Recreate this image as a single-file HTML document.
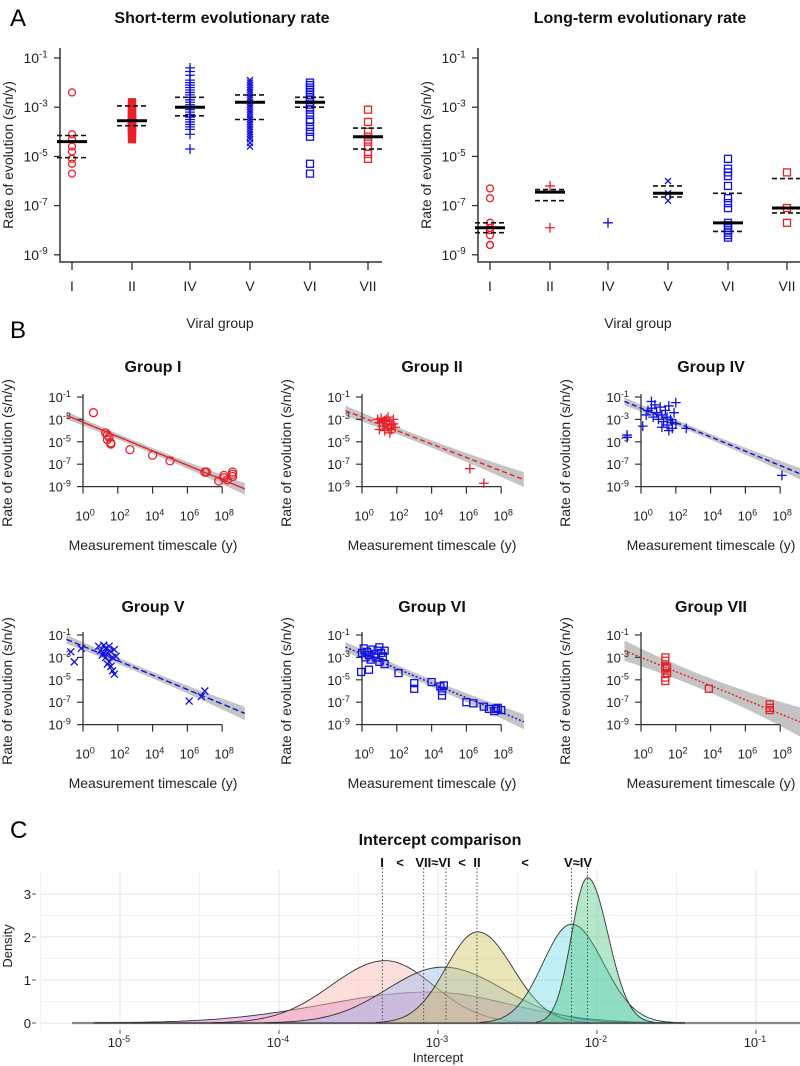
<!DOCTYPE html>
<html><head><meta charset="utf-8"><style>
html,body{margin:0;padding:0;background:#fff;}
svg{display:block;font-family:"Liberation Sans",Arial,sans-serif;}
</style></head><body>
<svg id="fig" width="800" height="1066" viewBox="0 0 800 1066" xmlns="http://www.w3.org/2000/svg">
<text x="10" y="26" font-size="24">A</text>
<text x="10" y="338" font-size="24">B</text>
<text x="10" y="838" font-size="24">C</text>
</svg>
<script>
// ===== Panel A data =====
const groupsA = ["I","II","IV","V","VI","VII"];
const shortVals = [
 [-2.4,-4.1,-4.3,-4.6,-4.8,-5.1,-5.3,-5.7],
 [-2.8,-2.95,-3.0,-3.1,-3.2,-3.3,-3.4,-3.45,-3.5,-3.55,-3.6,-3.65,-3.7,-3.75,-3.8,-3.85,-3.9,-4.0,-4.1,-4.3],
 [-1.4,-1.55,-1.7,-1.9,-2.0,-2.1,-2.2,-2.3,-2.4,-2.5,-2.6,-2.7,-2.8,-2.9,-3.0,-3.1,-3.2,-3.3,-3.4,-3.5,-3.6,-3.7,-3.8,-3.9,-4.1,-4.7],
 [-1.9,-2.0,-2.1,-2.2,-2.3,-2.4,-2.5,-2.6,-2.7,-2.8,-2.9,-3.0,-3.1,-3.2,-3.3,-3.4,-3.5,-3.6,-3.7,-3.8,-3.9,-4.0,-4.1,-4.2,-4.3,-4.45,-4.6],
 [-2.0,-2.1,-2.2,-2.3,-2.4,-2.5,-2.6,-2.7,-2.8,-2.9,-3.0,-3.1,-3.3,-3.5,-3.6,-3.8,-4.0,-4.2,-5.3,-5.7],
 [-3.1,-3.6,-4.0,-4.2,-4.4,-4.6,-4.9,-5.1]
];
const shortMed = [-4.4,-3.55,-3.0,-2.8,-2.8,-4.2];
const shortQ1 = [-5.05,-3.75,-3.35,-3.5,-3.0,-4.7];
const shortQ3 = [-4.15,-2.95,-2.6,-2.5,-2.6,-3.85];
const longVals = [
 [-6.3,-6.7,-7.7,-7.9,-8.0,-8.2,-8.6,-8.6],
 [-6.2,-7.9],
 [-7.7],
 [-6.0,-6.5,-6.8],
 [-5.1,-5.5,-5.65,-5.8,-6.2,-6.7,-6.9,-7.1,-7.7,-7.8,-7.9,-8.0,-8.1,-8.2,-8.3],
 [-5.65,-7.1,-7.7]
];
const longMed = [-7.9,-6.45,null,-6.5,-7.7,-7.1];
const longQ1 = [-8.1,-6.8,null,-6.65,-8.05,-7.3];
const longQ3 = [-7.7,-6.35,null,-6.2,-6.5,-5.9];
const markerShort = ["o","sf","+","x","s","s"];
const markerLong = ["o","+","+","x","s","s"];
const colorA = ["#e8202a","#e8202a","#1010e0","#1010e0","#1010e0","#e8202a"];
const yTickExp = [-1,-3,-5,-7,-9];

// ===== Panel B data =====
const groupsB = ["Group I","Group II","Group IV","Group V","Group VI","Group VII"];
const ptsB = [
 [[0.6,-2.4],[1.3,-4.2],[1.4,-4.4],[1.5,-4.6],[1.4,-4.8],[1.6,-5.1],[1.6,-5.2],[2.7,-5.7],[4,-6.2],[5,-6.7],[7,-7.7],[7.1,-7.7],[7.8,-8.5],[8.1,-8.0],[8.1,-8.2],[8.3,-8.4],[8.6,-7.9],[8.6,-8.1],[8.6,-7.7]],
 [[0.9,-3.0],[1.0,-3.3],[1.1,-2.9],[1.2,-3.6],[1.3,-3.1],[1.4,-3.4],[1.5,-2.8],[1.5,-3.8],[1.6,-3.2],[1.7,-3.5],[1.8,-3.0],[1.9,-3.7],[1.0,-3.9],[1.3,-4.0],[1.6,-4.2],[1.2,-3.2],[1.8,-3.4],[1.4,-3.0],[1.7,-3.9],[6.2,-7.4],[7.0,-8.7]],
 [[-0.8,-4.4],[-0.8,-4.6],[0.1,-3.6],[0.3,-2.6],[0.4,-2.2],[0.6,-1.4],[0.6,-2.0],[0.7,-2.8],[0.8,-1.7],[0.9,-2.4],[1.0,-3.0],[1.1,-1.9],[1.2,-2.6],[1.3,-3.2],[1.4,-2.2],[1.5,-3.5],[1.5,-2.8],[1.6,-1.8],[1.7,-3.0],[1.8,-3.8],[1.9,-2.4],[2.0,-1.5],[1.8,-3.3],[1.2,-3.7],[1.6,-4.0],[2.0,-3.4],[2.6,-3.8],[8.1,-8.0]],
 [[-0.7,-2.5],[-0.5,-3.4],[-0.1,-2.2],[0.9,-2.0],[1.0,-2.4],[1.1,-2.8],[1.2,-1.9],[1.3,-2.2],[1.3,-3.0],[1.4,-2.6],[1.5,-3.4],[1.5,-2.0],[1.6,-3.8],[1.6,-2.5],[1.7,-3.0],[1.7,-4.2],[1.8,-2.3],[1.8,-4.5],[1.9,-2.9],[1.4,-3.6],[1.2,-2.6],[6.1,-6.9],[6.8,-6.5],[7.0,-6.0]],
 [[-0.05,-4.3],[0.0,-2.6],[0.1,-2.2],[0.2,-3.0],[0.3,-2.5],[0.4,-4.1],[0.4,-2.8],[0.5,-3.2],[0.6,-2.3],[0.7,-2.7],[0.8,-3.0],[0.9,-2.4],[1.0,-2.1],[1.0,-3.4],[1.1,-2.6],[1.2,-2.9],[1.3,-3.6],[1.3,-2.4],[2.1,-4.4],[3,-5.3],[3,-5.8],[4,-5.2],[4.5,-5.6],[4.6,-6.0],[4.6,-6.4],[4.7,-5.5],[6,-7.0],[6.4,-7.1],[7,-7.4],[7.3,-7.6],[7.7,-7.6],[7.8,-7.5],[8.0,-7.7],[7.6,-7.8]],
 [[1.4,-3.0],[1.4,-3.3],[1.4,-3.8],[1.4,-4.0],[1.5,-4.4],[1.4,-4.8],[1.4,-5.1],[1.5,-3.9],[3.9,-5.8],[7.4,-7.2],[7.4,-7.5],[7.4,-7.7]]
];
const fitIntercept = [-3.25,-2.8,-2.0,-2.0,-2.7,-3.0];
const fitSlope = [-0.64,-0.6,-0.64,-0.645,-0.65,-0.63];
const bandHalf = [0.35,0.45,0.35,0.4,0.45,0.9];
const markerB = ["o","+","+","x","s","s"];
const colorB = ["#e8202a","#e8202a","#1010e0","#1010e0","#1010e0","#e8202a"];
const dashB = ["none","5,3","5,3","6,3","2,2","2,2"];
const xTickExpB = [0,2,4,6,8];

// ===== Panel C data =====
const groupsC = ["VII","I","VI","II","V","IV"];
const peakLog = [-3.05,-3.33,-2.97,-2.75,-2.16,-2.06];
const peakDens = [0.72,1.45,1.3,2.12,2.3,3.38];
const sdLeft = [0.66,0.34,0.35,0.2,0.18,0.1];
const sdRight = [0.5,0.3,0.38,0.22,0.2,0.13];
const fillC = ["rgba(215,90,205,0.38)","rgba(248,185,175,0.45)","rgba(150,185,240,0.42)","rgba(205,195,90,0.42)","rgba(90,215,225,0.38)","rgba(70,195,125,0.40)"];
const medLog = [-3.35,-3.09,-2.95,-2.755,-2.16,-2.06];
const medLab = ["I","VII","VI","II","V","IV"];
const xTickExpC = [-5,-4,-3,-2,-1];
const yTickC = [0,1,2,3];

const NS = "http://www.w3.org/2000/svg";
const svg = document.getElementById("fig");
function mk(tag, attrs, parent){
  const e = document.createElementNS(NS, tag);
  for (const k in attrs) e.setAttribute(k, attrs[k]);
  (parent||svg).appendChild(e);
  return e;
}
function powLabel(x,y,exp,anchor,size,name){
  const es = String(exp);
  const w = size*1.11 + size*0.7*0.56*es.length;
  const sx = anchor==="end" ? x - w : (anchor==="middle" ? x - w/2 : x);
  const t = mk("text",{x:sx,y:y,"font-size":size,fill:"#222"});
  
  
  const a = mk("tspan",{},t); a.textContent="10";
  const b = mk("tspan",{dy:-size*0.4,"font-size":size*0.7},t); b.textContent=es;
  return t;
}
function marker(type,x,y,c,sz,name){
  let e;
  if(type==="o"){ e = mk("circle",{cx:x,cy:y,r:sz*0.5,fill:"none",stroke:c,"stroke-width":1.3}); }
  else if(type==="s"||type==="sf"){ e = mk("rect",{x:x-sz/2,y:y-sz/2,width:sz,height:sz,fill:type==="sf"?c:"none",stroke:c,"stroke-width":1.3}); }
  else if(type==="+"){ e = mk("path",{d:`M${x-sz*0.7},${y}H${x+sz*0.7}M${x},${y-sz*0.7}V${y+sz*0.7}`,stroke:c,"stroke-width":1.3,fill:"none"}); }
  else { e = mk("path",{d:`M${x-sz*0.5},${y-sz*0.5}L${x+sz*0.5},${y+sz*0.5}M${x-sz*0.5},${y+sz*0.5}L${x+sz*0.5},${y-sz*0.5}`,stroke:c,"stroke-width":1.3,fill:"none"}); }
  
  
  return e;
}

// ===== Panel A =====
function panelA(axX, gx, title, titleX, vals, med, q1, q3, mks, key){
  const yA = v => 58 + (-1 - v) * 24.6;
  const t = mk("text",{x:titleX,y:23,"font-size":16,"font-weight":"bold","text-anchor":"middle",fill:"#111"});
  
  
  t.textContent = title;
  const ax = mk("path",{d:`M${axX},48V262H${axX+322}`,stroke:"#333","stroke-width":1.5,fill:"none"});
  
  
  yTickExp.forEach(e=>{
    const tk = mk("line",{x1:axX-6,x2:axX,y1:yA(e),y2:yA(e),stroke:"#333","stroke-width":1.3});
    
    
    powLabel(axX-10,yA(e)+5,e,"end",14,key+'-y-tick-label');
  });
  const yt = mk("text",{x:0,y:0,"font-size":14,"text-anchor":"middle",fill:"#222",transform:`translate(${axX-47},155) rotate(-90)`});
  
  
  yt.textContent = "Rate of evolution (s/n/y)";
  const xt = mk("text",{x:axX+160,y:328,"font-size":14,"text-anchor":"middle",fill:"#222"});
  
  
  xt.textContent = "Viral group";
  groupsA.forEach((g,i)=>{
    const x = gx[i];
    const tk = mk("line",{x1:x,x2:x,y1:262,y2:270,stroke:"#333","stroke-width":1.3});
    
    
    const lb = mk("text",{x:x,y:291,"font-size":14,"text-anchor":"middle",fill:"#222"});
    
    
    lb.textContent = g;
    vals[i].forEach(v=> marker(mks[i], x, yA(v), colorA[i], mks[i]==="o"?7:(mks[i]==="x"?6:7), key+'-point-'+g));
    if(med[i]!==null){
      [q1[i],q3[i]].forEach(q=>{
        const l = mk("line",{x1:x-15,x2:x+15,y1:yA(q),y2:yA(q),stroke:"#111","stroke-width":1.6,"stroke-dasharray":"5,3"});
        
        
      });
      const m = mk("line",{x1:x-15,x2:x+15,y1:yA(med[i]),y2:yA(med[i]),stroke:"#000","stroke-width":3});
      
      
    }
  });
}
panelA(60,[72,132,190,250,310,368],"Short-term evolutionary rate",222,shortVals,shortMed,shortQ1,shortQ3,markerShort,"short-term");
panelA(478,[490,550,608,668,728,787],"Long-term evolutionary rate",640,longVals,longMed,longQ1,longQ3,markerLong,"long-term");

// ===== Panel B =====
groupsB.forEach((g,i)=>{
  const c = i%3, r = Math.floor(i/3);
  const ax = 83 + c*279, top = 397 + r*238;
  const key = 'panel-'+g.toLowerCase().replace(' ','-');
  const X = lx => ax + lx*17.4;
  const Y = ly => top + (-1 - ly)*11.2;
  const t = mk("text",{x:ax+70,y:(r===0?372:612),"font-size":16,"font-weight":"bold","text-anchor":"middle",fill:"#111"});
  
  
  t.textContent = g;
  let up=[],dn=[];
  for(let k=0;k<=20;k++){
    const lx = -0.95 + k*(10.25/20);
    const d = lx - 3;
    const w = bandHalf[i]*(0.7 + 0.02*d*d);
    const yv = fitIntercept[i] + fitSlope[i]*lx;
    up.push(X(lx)+","+Y(yv+w)); dn.unshift(X(lx)+","+Y(yv-w));
  }
  const band = mk("polygon",{points:up.concat(dn).join(" "),fill:"#c4c4c4"});
  
  
  const a = mk("path",{d:`M${ax},${Y(-1)-3}V${Y(-9)}H${X(8)}`,stroke:"#333","stroke-width":1.3,fill:"none"});
  
  
  yTickExp.forEach(e=>{
    const tk = mk("line",{x1:ax-6,x2:ax,y1:Y(e),y2:Y(e),stroke:"#333","stroke-width":1.2});
    
    
    powLabel(ax-10,Y(e)+5,e,"end",13,key+'-y-tick-label');
  });
  xTickExpB.forEach(e=>{
    const tk = mk("line",{x1:X(e),x2:X(e),y1:Y(-9),y2:Y(-9)+7,stroke:"#333","stroke-width":1.2});
    
    
    powLabel(X(e)+2,Y(-9)+34,e,"middle",13,key+'-x-tick-label');
  });
  const yt = mk("text",{x:0,y:0,"font-size":14,"text-anchor":"middle",fill:"#222",transform:`translate(${ax-71},${top+56}) rotate(-90)`});
  
  
  yt.textContent = "Rate of evolution (s/n/y)";
  const xt = mk("text",{x:ax+70,y:top+153,"font-size":14,"text-anchor":"middle",fill:"#222"});
  
  
  xt.textContent = "Measurement timescale (y)";
  const fl = mk("line",{x1:X(-0.95),y1:Y(fitIntercept[i]+fitSlope[i]*-0.95),x2:X(9.3),y2:Y(fitIntercept[i]+fitSlope[i]*9.3),stroke:colorB[i],"stroke-width":1.4,"stroke-dasharray":dashB[i]});
  
  
  ptsB[i].forEach(p=> marker(markerB[i], X(p[0]), Y(p[1]), colorB[i], markerB[i]==="o"?8:7, key+'-point'));
});

// ===== Panel C =====
const CX = l => 279 + (l + 4)*159;
const CY = d => 1023 - d*43;
const ct = mk("text",{x:440,y:845,"font-size":16,"font-weight":"bold","text-anchor":"middle",fill:"#111"});


ct.textContent = "Intercept comparison";
for(let k=-5.5;k<=-0.5;k+=1){
  const g = mk("line",{x1:CX(k),x2:CX(k),y1:870,y2:1030,stroke:"#f3f3f3","stroke-width":1});
  
  
}
[0.5,1.5,2.5].forEach(v=>{
  const g = mk("line",{x1:41,x2:800,y1:CY(v),y2:CY(v),stroke:"#f3f3f3","stroke-width":1});
  
  
});
xTickExpC.forEach(e=>{
  const g = mk("line",{x1:CX(e),x2:CX(e),y1:870,y2:1030,stroke:"#e6e6e6","stroke-width":1});
  
  
  const tk = mk("line",{x1:CX(e),x2:CX(e),y1:1030,y2:1034,stroke:"#555","stroke-width":1});
  
  
  powLabel(CX(e),1047,e,"middle",13,'x-tick-label');
});
yTickC.forEach(v=>{
  const g = mk("line",{x1:41,x2:800,y1:CY(v),y2:CY(v),stroke:"#e6e6e6","stroke-width":1});
  
  
  const lb = mk("text",{x:31,y:CY(v)+5,"font-size":13,"text-anchor":"end",fill:"#222"});
  
  
  lb.textContent = String(v);
  const tk = mk("line",{x1:32,x2:36,y1:CY(v),y2:CY(v),stroke:"#555","stroke-width":1});
  
  
});
const base = mk("line",{x1:72,x2:800,y1:CY(0),y2:CY(0),stroke:"#888","stroke-width":2.2});


groupsC.forEach((g,i)=>{
  const pts = [];
  const lo = peakLog[i]-3.2*sdLeft[i], hi = peakLog[i]+3.2*sdRight[i];
  for(let k=0;k<=80;k++){
    const l = lo + (hi-lo)*k/80;
    const s = l<peakLog[i]?sdLeft[i]:sdRight[i];
    const d = peakDens[i]*Math.exp(-0.5*Math.pow((l-peakLog[i])/s,2));
    pts.push(CX(l).toFixed(1)+","+CY(d).toFixed(1));
  }
  const p = mk("path",{d:`M${CX(lo)},${CY(0)}L${pts.join("L")}L${CX(hi)},${CY(0)}Z`,fill:fillC[i],stroke:"#333","stroke-width":0.9});
  
  
});
medLog.forEach((m,i)=>{
  const l = mk("line",{x1:CX(m),x2:CX(m),y1:868,y2:CY(0),stroke:"#444","stroke-width":0.9,"stroke-dasharray":"1.5,2"});
  
  
});
const ord = [["I",382],["<",400],["VII≈VI",433],["<",462],["II",477],["<",525],["V≈IV",578]];
ord.forEach(([s,x])=>{
  const t = mk("text",{x:x,y:867,"font-size":13,"font-weight":"bold","text-anchor":"middle",fill:"#111"});
  
  
  t.textContent = s;
});
const cyt = mk("text",{x:0,y:0,"font-size":13,"text-anchor":"middle",fill:"#222",transform:"translate(12,946) rotate(-90)"});


cyt.textContent = "Density";
const cxt = mk("text",{x:438,y:1062,"font-size":13,"text-anchor":"middle",fill:"#222"});


cxt.textContent = "Intercept";
</script>
</body></html>
